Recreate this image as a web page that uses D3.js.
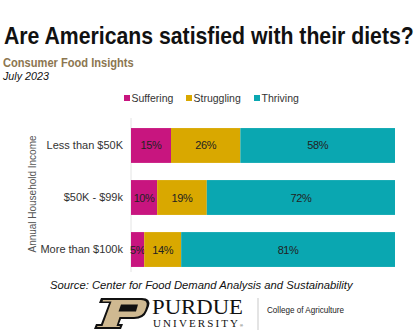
<!DOCTYPE html>
<html>
<head>
<meta charset="utf-8">
<script src="https://cdn.jsdelivr.net/npm/d3@7"></script>
<style>
  html, body { margin: 0; padding: 0; background: #fff; }
  svg { display: block; }
</style>
</head>
<body>
<svg id="chart" width="419" height="330"></svg>
<script>
// Income groups and the share of respondents in each diet-wellbeing group (%)
const categories = ["Less than $50K", "$50K - $99k", "More than $100k"];
const seriesNames = ["Suffering", "Struggling", "Thriving"];
const suffering = [15, 10, 5];
const struggling = [26, 19, 14];
const thriving = [58, 72, 81];
const colors = ["#c8157f", "#d9a800", "#0aa7b1"];

const rows = categories.map((c, i) => ({
  category: c,
  Suffering: suffering[i],
  Struggling: struggling[i],
  Thriving: thriving[i]
}));

const SANS = "'Liberation Sans', Arial, sans-serif";
const SERIF = "'Liberation Serif', 'DejaVu Serif', serif";

const svg = d3.select("#chart").style("font-family", SANS);

// Fit a text to a target width by squeezing it horizontally
function fitWidth(sel, x, yPos, width) {
  const w = sel.node().getComputedTextLength();
  const k = Math.min(1, width / w);
  sel.attr("transform", `translate(${x},${yPos}) scale(${k},1)`);
}

// Heading block
const title = svg.append("text")
  .attr("font-size", 23).attr("font-weight", "bold").attr("fill", "#111")
  .text("Are Americans satisfied with their diets?");
fitWidth(title, 4, 44, 410);

const sub = svg.append("text")
  .attr("font-size", 12).attr("font-weight", "bold").attr("fill", "#8c7650")
  .text("Consumer Food Insights");
fitWidth(sub, 3, 67, 131);

const date = svg.append("text")
  .attr("font-size", 11.5).attr("font-style", "italic").attr("fill", "#111")
  .text("July 2023");
fitWidth(date, 3, 80, 46);

// Legend
const legendX = [124, 186, 254];
const legend = svg.append("g");
seriesNames.forEach((name, i) => {
  legend.append("rect").attr("x", legendX[i]).attr("y", 95)
    .attr("width", 6).attr("height", 6).attr("fill", colors[i]);
  legend.append("text").attr("x", legendX[i] + 7.5).attr("y", 101.5)
    .attr("font-size", 10.5).attr("fill", "#333").text(name);
});

// Stacked bars, each row normalised to 100%
const stack = d3.stack().keys(seriesNames).offset(d3.stackOffsetExpand);
const layers = stack(rows);

const x = d3.scaleLinear().domain([0, 1]).range([131, 395]);
const y = d3.scaleBand().domain(categories).range([120, 275])
  .paddingInner(0.33).paddingOuter(0.155);

// Baseline axis line
svg.append("line").attr("x1", 131).attr("x2", 131).attr("y1", 118).attr("y2", 272)
  .attr("stroke", "#e4e4e4").attr("stroke-width", 1);

const g = svg.append("g");
layers.forEach((layer, li) => {
  g.selectAll(null).data(layer).enter().append("rect")
    .attr("x", d => x(d[0]))
    .attr("y", d => y(d.data.category))
    .attr("width", d => x(d[1]) - x(d[0]))
    .attr("height", y.bandwidth())
    .attr("fill", colors[li]);
  g.selectAll(null).data(layer).enter().append("text")
    .attr("x", d => (x(d[0]) + x(d[1])) / 2)
    .attr("y", d => y(d.data.category) + y.bandwidth() / 2 + 4)
    .attr("text-anchor", "middle")
    .attr("font-size", 11).attr("fill", "#222")
    .attr("letter-spacing", -0.4)
    .text(d => d.data[layer.key] + "%");
});

// Category axis
const yAxis = d3.axisLeft(y).tickSize(0).tickPadding(8);
const ag = svg.append("g").attr("transform", "translate(131,0)").call(yAxis);
ag.select(".domain").remove();
ag.selectAll("text").attr("font-size", 11).attr("fill", "#333")
  .style("font-family", SANS);

svg.append("text")
  .attr("transform", "translate(36,194) rotate(-90)")
  .attr("text-anchor", "middle").attr("font-size", 10.5).attr("fill", "#555")
  .attr("textLength", 117).attr("lengthAdjust", "spacingAndGlyphs")
  .text("Annual Household Income");

// Source line
const source = svg.append("text")
  .attr("font-size", 11.5).attr("font-style", "italic").attr("fill", "#111")
  .text("Source:  Center for Food Demand Analysis and Sustainability");
fitWidth(source, 50, 289, 303);

// Purdue wordmark
const logo = svg.append("g");
logo.append("path")
  .attr("d", "M101,298 L142,298 Q151,298 149,306 L147,311 Q144,319 134,319 L121,319 L119,324 L123,324 L121,329 L94,329 L96,324 L101,324 L109,303 L99,303 Z")
  .attr("fill", "#111");
logo.append("path")
  .attr("d", "M103,300 L141,300 Q148,300 146.5,306 L145,310.5 Q142.5,317 134,317 L119.5,317 L116.5,326 L120,326 L119.5,327 L97,327 L97.5,326 L102.5,326 L111.5,301.5 L102.5,301.5 Z")
  .attr("fill", "#cfb991");
logo.append("path")
  .attr("d", "M121,304.5 L138,304.5 L136,311.5 L118.5,311.5 Z")
  .attr("fill", "#111");
logo.append("text").attr("x", 152).attr("y", 314)
  .style("font-family", SERIF)
  .attr("font-size", 20).attr("fill", "#111")
  .attr("textLength", 91).attr("lengthAdjust", "spacingAndGlyphs")
  .text("PURDUE");
logo.append("text").attr("x", 153).attr("y", 327)
  .style("font-family", SERIF)
  .attr("font-size", 11).attr("fill", "#111")
  .attr("textLength", 85).attr("lengthAdjust", "spacing")
  .text("UNIVERSITY");
logo.append("text").attr("x", 240).attr("y", 327)
  .attr("font-size", 4).attr("fill", "#111").text("®");
logo.append("line").attr("x1", 258).attr("x2", 258).attr("y1", 298).attr("y2", 330)
  .attr("stroke", "#bbb").attr("stroke-width", 0.8);
logo.append("text").attr("x", 267).attr("y", 313)
  .attr("font-size", 9.5).attr("fill", "#222")
  .attr("textLength", 77).attr("lengthAdjust", "spacingAndGlyphs")
  .text("College of Agriculture");
</script>
</body>
</html>
